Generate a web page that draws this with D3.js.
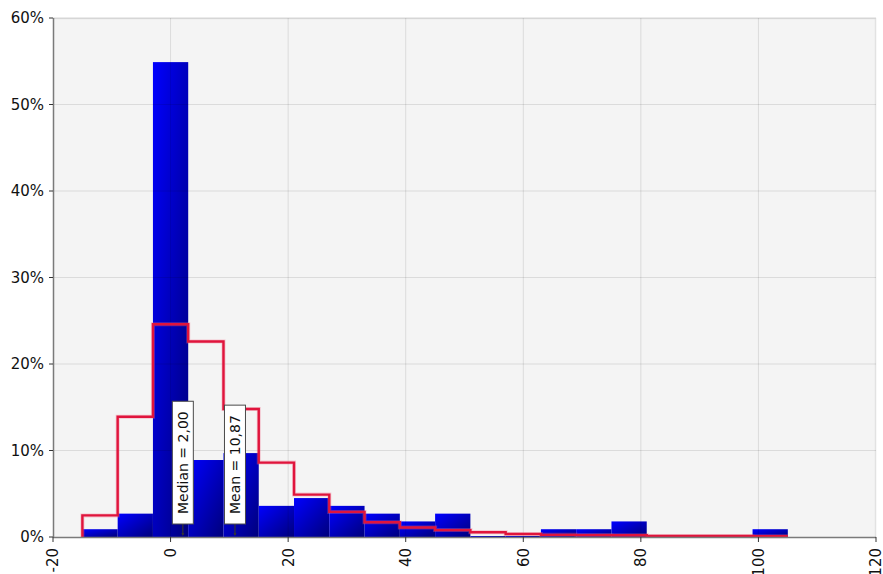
<!DOCTYPE html>
<html>
<head>
<meta charset="utf-8">
<script src="https://cdn.jsdelivr.net/npm/d3@7/dist/d3.min.js"></script>
<style>
  body { margin: 0; background: #fff; }
  #chart text { font-family: "DejaVu Sans", Verdana, sans-serif; fill: #111; }
</style>
</head>
<body>
<div id="chart"></div>
<script>
// histogram bins (left edges), each 6 wide
const binStarts = [-15, -9, -3, 3, 9, 15, 21, 27, 33, 39, 45, 51, 57, 63, 69, 75, 81, 87, 93, 99];
const binWidth = 6;
// observed share per bin, %
const barPercent = [0.9, 2.7, 54.9, 8.9, 9.7, 3.6, 4.5, 3.6, 2.7, 1.8, 2.7, 0, 0, 0.9, 0.9, 1.8, 0, 0, 0, 0.9];
// fitted distribution per bin, % (red step line)
const fitPercent = [2.5, 13.9, 24.6, 22.6, 14.8, 8.6, 4.9, 2.9, 1.7, 1.1, 0.8, 0.55, 0.35, 0.25, 0.22, 0.2, 0.13, 0.12, 0.12, 0.1];

const xTicks = [-20, 0, 20, 40, 60, 80, 100, 120];
const yTicks = [0, 10, 20, 30, 40, 50, 60];

const markerLabels = ['Median = 2,00', 'Mean = 10,87'];
const markerValues = [2, 10.87];

// 尺寸
const width = 883, height = 574;
const margin = { top: 18, right: 7, bottom: 37, left: 53 };
const innerW = width - margin.left - margin.right;
const innerH = height - margin.top - margin.bottom;

const svg = d3.select('#chart').append('svg')
  .attr('width', width)
  .attr('height', height);

const defs = svg.append('defs');
const grad = defs.append('linearGradient')
  .attr('id', 'barGrad')
  .attr('x1', 0).attr('y1', 0)
  .attr('x2', 1).attr('y2', 1);
grad.append('stop').attr('offset', '0%').attr('stop-color', '#0000ff');
grad.append('stop').attr('offset', '100%').attr('stop-color', '#00007c');

const x = d3.scaleLinear().domain([-20, 120]).range([0, innerW]);
const y = d3.scaleLinear().domain([0, 60]).range([innerH, 0]);

const g = svg.append('g').attr('transform', `translate(${margin.left},${margin.top})`);

// plot background + light frame
g.append('rect')
  .attr('width', innerW).attr('height', innerH)
  .attr('fill', '#f4f4f4');
g.append('path')
  .attr('d', `M0,0.5H${innerW - 0.5}V${innerH}`)
  .attr('fill', 'none')
  .attr('stroke', '#e2e2e2')
  .attr('stroke-width', 1.5);

// bars
const bins = binStarts.map((s, i) => ({ x0: s, x1: s + binWidth, v: barPercent[i], f: fitPercent[i] }));

g.selectAll('rect.bar')
  .data(bins)
  .enter()
  .append('rect')
  .attr('class', 'bar')
  .attr('x', d => x(d.x0))
  .attr('width', d => x(d.x1) - x(d.x0))
  .attr('y', d => Math.min(y(d.v), innerH - 1))
  .attr('height', d => Math.max(innerH - y(d.v), 1))
  .attr('fill', 'url(#barGrad)');

// grid on top of bars, translucent
g.append('g')
  .selectAll('line')
  .data(xTicks.slice(1, -1))
  .enter().append('line')
  .attr('x1', d => x(d)).attr('x2', d => x(d))
  .attr('y1', 0).attr('y2', innerH)
  .attr('stroke', 'rgba(0,0,0,0.1)');
g.append('g')
  .selectAll('line')
  .data(yTicks.slice(1))
  .enter().append('line')
  .attr('x1', 0).attr('x2', innerW)
  .attr('y1', d => y(d)).attr('y2', d => y(d))
  .attr('stroke', 'rgba(0,0,0,0.1)');

// fitted step line
const stepPts = [{ x: bins[0].x0, v: 0 }]
  .concat(bins.map(d => ({ x: d.x0, v: d.f })))
  .concat([{ x: bins[bins.length - 1].x1, v: bins[bins.length - 1].f }]);
const stepLine = d3.line()
  .x(d => x(d.x))
  .y(d => y(d.v))
  .curve(d3.curveStepAfter);

g.append('path')
  .datum(stepPts)
  .attr('d', stepLine)
  .attr('fill', 'none')
  .attr('stroke', '#f06a86')
  .attr('stroke-opacity', 0.35)
  .attr('stroke-width', 4);
g.append('path')
  .datum(stepPts)
  .attr('d', stepLine)
  .attr('fill', 'none')
  .attr('stroke', '#e0143c')
  .attr('stroke-width', 2.4);

// axes
const xAxis = g.append('g').attr('transform', `translate(0,${innerH})`);
xAxis.append('line')
  .attr('x1', 0).attr('x2', innerW)
  .attr('y1', 0.5).attr('y2', 0.5)
  .attr('stroke', '#7a7a7a').attr('stroke-width', 1.5);
const xt = xAxis.selectAll('g.tick')
  .data(xTicks)
  .enter().append('g')
  .attr('class', 'tick')
  .attr('transform', d => `translate(${x(d)},0)`);
xt.append('line')
  .attr('y1', 0).attr('y2', 5)
  .attr('stroke', '#333');
xt.append('text')
  .attr('transform', 'rotate(-90)')
  .attr('x', -11)
  .attr('dy', '0.36em')
  .attr('text-anchor', 'end')
  .style('font-size', '15px')
  .text(d => d);

const yAxis = g.append('g');
yAxis.append('line')
  .attr('x1', 0.5).attr('x2', 0.5)
  .attr('y1', 0).attr('y2', innerH)
  .attr('stroke', '#7a7a7a').attr('stroke-width', 1.5);
const yt = yAxis.selectAll('g.tick')
  .data(yTicks)
  .enter().append('g')
  .attr('class', 'tick')
  .attr('transform', d => `translate(0,${y(d)})`);
yt.append('line')
  .attr('x1', -4).attr('x2', 0)
  .attr('stroke', '#333');
yt.append('text')
  .attr('x', -9)
  .attr('dy', '0.36em')
  .attr('text-anchor', 'end')
  .style('font-size', '15px')
  .text(d => d + '%');

// median / mean labels
const boxBottom = innerH - 13;
markerValues.forEach((v, i) => {
  const cx = x(v) + 0.5;
  const mg = g.append('g');
  // pointer
  mg.append('line')
    .attr('x1', cx).attr('x2', cx)
    .attr('y1', boxBottom).attr('y2', innerH - 2)
    .attr('stroke', '#333').attr('stroke-width', 1.2);
  mg.append('path')
    .attr('d', `M${cx - 1.5},${innerH - 4}L${cx + 1.5},${innerH - 4}L${cx},${innerH - 1}Z`)
    .attr('fill', '#333');
  const box = mg.append('rect');
  const txt = mg.append('text')
    .attr('transform', `translate(${cx},${boxBottom - 10}) rotate(-90)`)
    .attr('dy', '0.36em')
    .style('font-size', '14px')
    .text(markerLabels[i]);
  const len = txt.node().getComputedTextLength();
  box.attr('x', cx - 10.5)
    .attr('y', boxBottom - len - 20)
    .attr('width', 21)
    .attr('height', len + 20)
    .attr('fill', '#fff')
    .attr('stroke', '#4a4a4a')
    .attr('stroke-width', 1);
});
</script>
</body>
</html>
